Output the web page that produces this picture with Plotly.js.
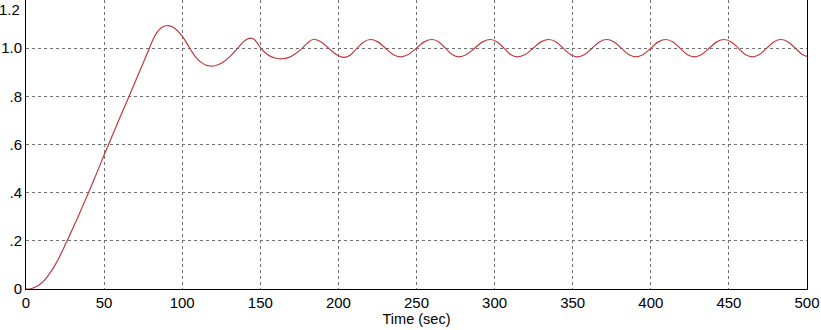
<!DOCTYPE html>
<html>
<head>
<meta charset="utf-8">
<script src="https://cdn.plot.ly/plotly-3.0.1.min.js"></script>
<style>html,body{margin:0;padding:0;background:#fff;}#chart{width:821px;height:330px;}</style>
</head>
<body>
<div id="chart"></div>
<script>
// Time (sec)
const timeSec = [0,3,6,9,12,15,18,21,24,27,30,33,36,40,45,50,55,60,65,70,75,79,82,85,88,91,94,97,100,103,106,109,112,115,118,121,124,127,130,133,136,139,142,144,146,148,150,153,156,160,164,168,172,176,180,184,
188.9,193.7,198.6,203.4,207.7,212,216.2,220.5,225.3,230.1,234.9,239.7,244.8,249.9,254.9,260,264.3,268.5,272.8,277,282.1,287.2,292.3,297.4,301.7,306,310.2,314.5,319.6,324.7,329.7,334.8,339.4,343.9,348.5,353,357.7,362.4,367.1,371.8,376.5,381.1,385.8,390.4,395.2,400,404.8,409.6,414.2,418.7,423.3,427.8,432.6,437.4,442.2,447,451.5,456,460.5,465,469.6,474.2,478.7,483.3,487.9,492.5,497,500];
// Response
const response = [0,0.001,0.008,0.02,0.038,0.063,0.093,0.128,0.168,0.21,0.252,0.295,0.34,0.4,0.477,0.556,0.633,0.71,0.785,0.862,0.938,1.0,1.045,1.075,1.09,1.094,1.088,1.072,1.05,1.02,0.988,0.96,0.942,0.93,0.926,0.927,0.934,0.946,0.962,0.982,1.003,1.025,1.039,1.042,1.037,1.022,1.003,0.982,0.968,0.958,0.956,0.961,0.975,0.995,1.02,1.037,
1.026,1.0,0.974,0.962,0.972,1.0,1.026,1.036,1.026,1.0,0.974,0.964,0.974,1.0,1.026,1.036,1.026,1.0,0.974,0.964,0.974,1.0,1.026,1.036,1.026,1.0,0.974,0.964,0.974,1.0,1.026,1.036,1.026,1.0,0.974,0.964,0.974,1.0,1.026,1.036,1.026,1.0,0.974,0.964,0.974,1.0,1.026,1.036,1.026,1.0,0.974,0.964,0.974,1.0,1.026,1.036,1.026,1.0,0.974,0.964,0.974,1.0,1.026,1.036,1.026,1.0,0.974,0.966];
const xTicks = [0,50,100,150,200,250,300,350,400,450,500];
const xTickText = ['0','50','100','150','200','250','300','350','400','450','500'];
const yTicks = [0,0.2,0.4,0.6,0.8,1.0];
const yTickText = ['0','.2','.4','.6','.8','1.0'];
const yTopLabel = '1.2';
const xTitle = 'Time (sec)';

const font = {family: 'Liberation Sans, Arial, sans-serif', size: 15, color: '#000'};
const titleFont = {family: 'Liberation Sans, Arial, sans-serif', size: 14.5, color: '#000'};

Plotly.newPlot('chart', [{
  x: timeSec, y: response, type: 'scatter', mode: 'lines',
  line: {color: '#c0393b', width: 1.2, shape: 'spline', smoothing: 1},
  hoverinfo: 'none'
}], {
  width: 821, height: 330,
  margin: {l: 26, r: 14, t: 0, b: 41},
  paper_bgcolor: '#fff', plot_bgcolor: '#fff',
  showlegend: false,
  font: font,
  xaxis: {
    range: [0, 500], tickvals: xTicks, ticktext: xTickText,
    showgrid: true, gridcolor: '#707070', griddash: 'dot', gridwidth: 1,
    zeroline: false, showline: true, linecolor: '#000', linewidth: 1,
    ticks: '', tickfont: font,
    title: {text: xTitle, font: titleFont, standoff: 3}
  },
  yaxis: {
    range: [0, 1.2], tickvals: yTicks.concat([1.2]), ticktext: yTickText.concat(['']),
    showgrid: true, gridcolor: '#707070', griddash: 'dot', gridwidth: 1,
    zeroline: false, showline: true, linecolor: '#000', linewidth: 1, mirror: true,
    ticks: '', tickfont: font
  },
  annotations: [{
    text: yTopLabel, xref: 'paper', yref: 'y', x: 0, y: 1.2,
    xanchor: 'right', yanchor: 'top', xshift: -4, yshift: 1,
    showarrow: false, font: font
  }]
}, {displayModeBar: false, staticPlot: true});
</script>
</body>
</html>
